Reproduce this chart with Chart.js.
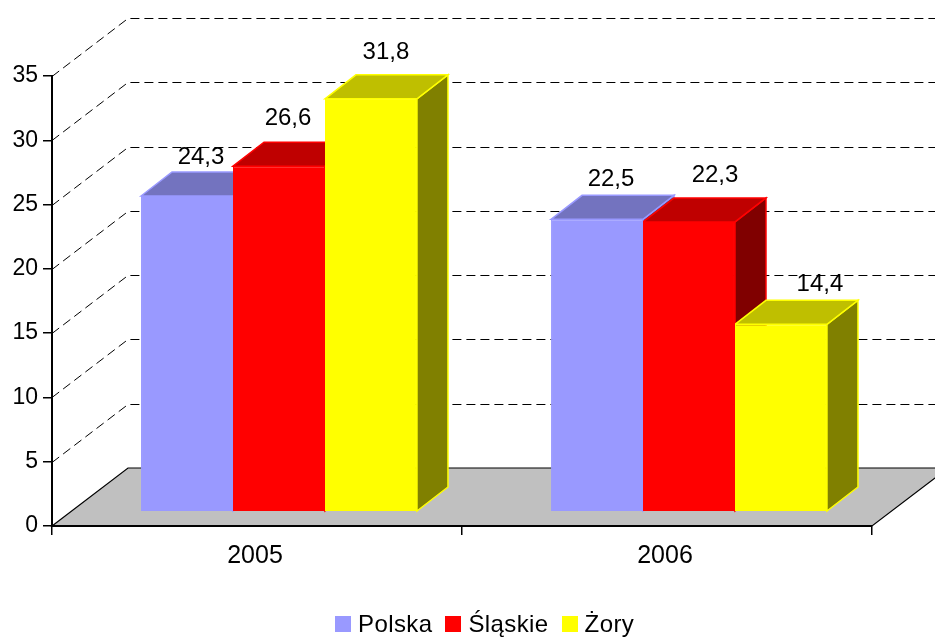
<!DOCTYPE html>
<html>
<head>
<meta charset="utf-8">
<title>Chart</title>
<script src="https://cdn.jsdelivr.net/npm/chart.js@4"></script>
<style>
    html, body { margin: 0; padding: 0; background: #fff; overflow: hidden; }
    #wrap { position: relative; width: 935px; height: 637px; }
    #legend {
        position: absolute; left: 335px; top: 609px; display: flex; gap: 13px;
        font: 24px "Liberation Sans", Arial, sans-serif; line-height: 30px; color: #000;
        letter-spacing: 0.4px;
    }
    #legend span.item { display: flex; align-items: center; }
    #legend i { display: block; width: 16px; height: 16px; margin-right: 7px; }
</style>
</head>
<body>
<div id="wrap">
    <canvas id="chart" width="935" height="637"></canvas>
    <div id="legend"></div>
</div>
<script>
const categories = ['2005', '2006'];
const seriesNames = ['Polska', 'Śląskie', 'Żory'];
const polska = [24.3, 22.5];
const slaskie = [26.6, 22.3];
const zory = [31.8, 14.4];

const frontColors = ['#9999ff', '#ff0000', '#ffff00'];
const topColors = ['#7373bf', '#bf0000', '#bfbf00'];
const sideColors = ['#4d4d80', '#800000', '#808000'];

// the labels were placed by hand in the original, so each one has its own nudge from the bar top
const labelNudge = [
    [[14, -39], [14, -40]],
    [[9, -48], [26, -47]],
    [[15, -46], [39, -40]]
];

const FONT = '"Liberation Sans", Arial, sans-serif';
const wall = { dx: 76, dy: -58 };   // floor depth
const bar3d = { dx: 31, dy: -24 };  // bar depth
const barShift = 22;                // bars stand further back than the axis

function face(ctx, points, fill, stroke) {
    ctx.beginPath();
    points.forEach((p, i) => (i ? ctx.lineTo(p[0], p[1]) : ctx.moveTo(p[0], p[1])));
    ctx.closePath();
    ctx.fillStyle = fill;
    ctx.fill();
    ctx.strokeStyle = stroke;
    ctx.lineWidth = 1.5;
    ctx.stroke();
}

const room = {
    id: 'room',
    beforeDraw(chart) {
        const ctx = chart.ctx;
        const area = chart.chartArea;
        const y = chart.scales.y;

        ctx.save();
        // floor
        ctx.beginPath();
        ctx.moveTo(area.left, area.bottom);
        ctx.lineTo(area.left + wall.dx, area.bottom + wall.dy);
        ctx.lineTo(area.right + wall.dx, area.bottom + wall.dy);
        ctx.lineTo(area.right, area.bottom);
        ctx.closePath();
        ctx.fillStyle = '#c0c0c0';
        ctx.fill();
        ctx.strokeStyle = '#000';
        ctx.lineWidth = 1.2;
        ctx.stroke();

        // dashed grid on the side and back walls
        ctx.setLineDash([9, 5]);
        ctx.lineWidth = 1;
        y.ticks.forEach((tick, i) => {
            if (tick.value === 0) return;
            const py = Math.round(y.getPixelForTick(i)) + 0.5;
            ctx.beginPath();
            ctx.moveTo(area.left, py);
            ctx.lineTo(area.left + wall.dx, py + wall.dy);
            ctx.lineTo(area.right + wall.dx, py + wall.dy);
            ctx.stroke();
        });
        ctx.restore();
    },
    beforeDatasetsDraw(chart) {
        const ctx = chart.ctx;
        ctx.save();
        ctx.translate(barShift, 0);
        chart.data.datasets.forEach((ds, d) => {
            chart.getDatasetMeta(d).data.forEach(bar => {
                const l = bar.x - bar.width / 2;
                const r = bar.x + bar.width / 2;
                face(ctx, [[r, bar.y], [r + bar3d.dx, bar.y + bar3d.dy], [r + bar3d.dx, bar.base + bar3d.dy], [r, bar.base]],
                    sideColors[d], frontColors[d]);
                face(ctx, [[l, bar.y], [l + bar3d.dx, bar.y + bar3d.dy], [r + bar3d.dx, bar.y + bar3d.dy], [r, bar.y]],
                    topColors[d], frontColors[d]);
            });
        });
    },
    afterDatasetsDraw(chart) {
        const ctx = chart.ctx;
        ctx.restore();

        ctx.save();
        ctx.font = '24px ' + FONT;
        ctx.fillStyle = '#000';
        ctx.textAlign = 'center';
        ctx.textBaseline = 'middle';
        chart.data.datasets.forEach((ds, d) => {
            chart.getDatasetMeta(d).data.forEach((bar, i) => {
                const text = ds.data[i].toFixed(1).replace('.', ',');
                ctx.fillText(text, bar.x + barShift + labelNudge[d][i][0], bar.y + labelNudge[d][i][1]);
            });
        });
        ctx.restore();
    }
};

const seriesValues = [polska, slaskie, zory];

new Chart(document.getElementById('chart'), {
    type: 'bar',
    data: {
        labels: categories,
        datasets: seriesNames.map((name, i) => ({
            label: name,
            data: seriesValues[i],
            yAxisID: 'barY',
            backgroundColor: frontColors[i],
            borderColor: frontColors[i],
            borderWidth: 1,
            categoryPercentage: 0.673,
            barPercentage: 1,
            clip: false
        }))
    },
    options: {
        responsive: false,
        animation: false,
        layout: { padding: { top: 76, right: 63, bottom: 71, left: 0 } },
        plugins: {
            legend: { display: false },
            tooltip: { enabled: false }
        },
        scales: {
            x: {
                afterFit(scale) { scale.height = 40; },
                grid: { display: true, drawOnChartArea: false, drawTicks: true, tickLength: 9, color: '#000', lineWidth: 1.5 },
                border: { display: true, color: '#000', width: 2 },
                ticks: { color: '#000', font: { family: FONT, size: 25 }, padding: 6, labelOffset: -2, maxRotation: 0 }
            },
            y: {
                min: 0,
                max: 35,
                afterFit(scale) { scale.width = 52; },
                grid: { display: true, drawOnChartArea: false, drawTicks: true, tickLength: 9, color: '#000', lineWidth: 1.5 },
                border: { display: true, color: '#000', width: 2 },
                ticks: { stepSize: 5, color: '#000', font: { family: FONT, size: 23 }, padding: 5 }
            },
            // the bars are drawn a little stretched and raised off the axis, as in the original
            barY: {
                display: false,
                min: -1.157,
                max: 33.56
            }
        }
    },
    plugins: [room]
});

const legend = document.getElementById('legend');
seriesNames.forEach((name, i) => {
    const item = document.createElement('span');
    item.className = 'item';
    item.innerHTML = `<i style="background:${frontColors[i]}"></i>${name}`;
    legend.appendChild(item);
});
</script>
</body>
</html>
